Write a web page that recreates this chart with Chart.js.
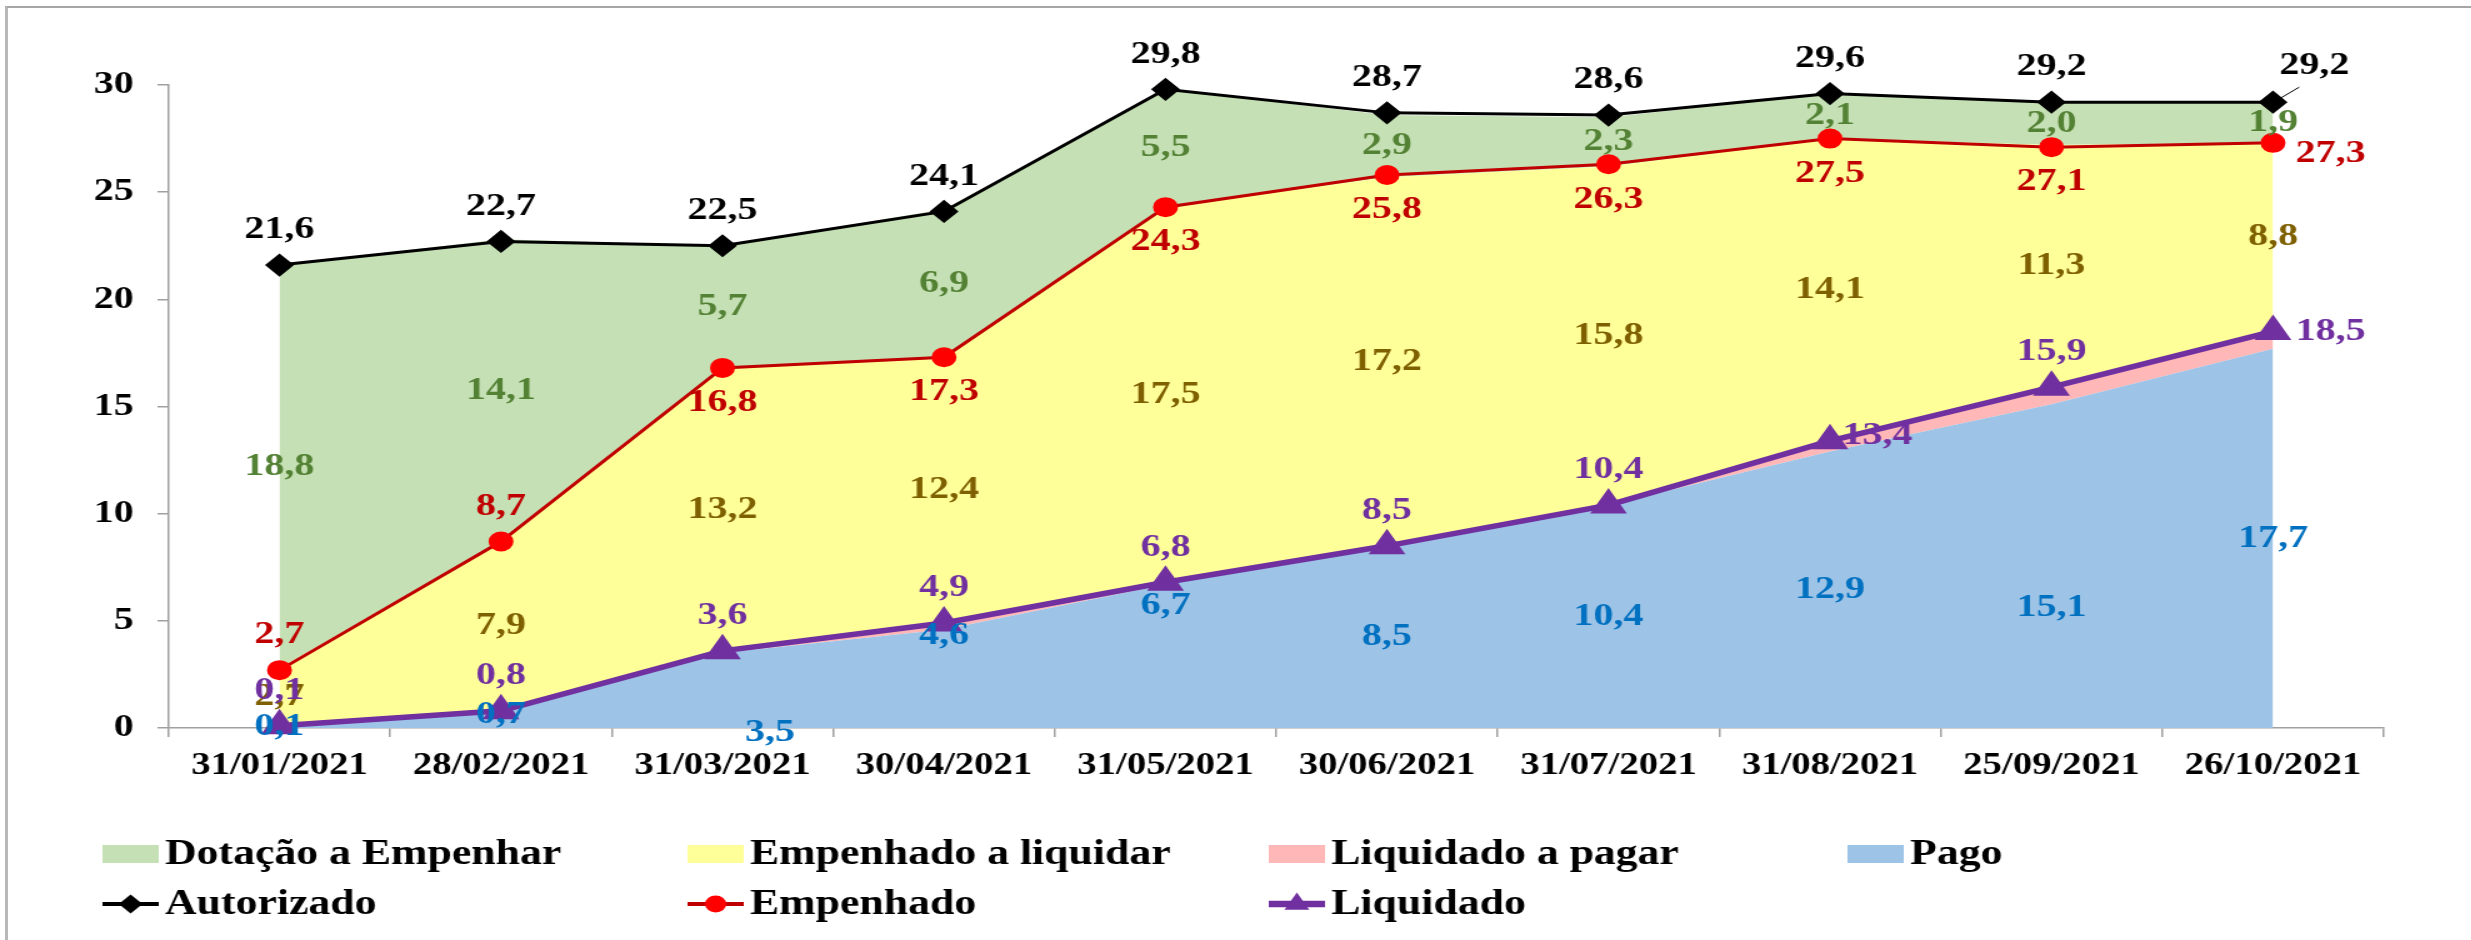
<!DOCTYPE html>
<html>
<head>
<meta charset="utf-8">
<script src="https://cdn.jsdelivr.net/npm/chart.js@4.4.1/dist/chart.umd.min.js"></script>
<style>
  html, body { margin: 0; padding: 0; background: #fff; overflow: hidden; }
  #moldura { position: absolute; left: 5px; top: 6px; width: 2480px; height: 940px;
             border-left: 3px solid #B8B8B8; border-top: 2px solid #A6A6A6; }
  /* o gráfico original está esticado na horizontal */
  #caixa { position: absolute; left: 0; top: 0; width: 1977px; height: 940px;
           transform: scaleX(1.25); transform-origin: 0 0; }
</style>
</head>
<body>
<div id="moldura"></div>
<div id="caixa"><canvas id="grafico"></canvas></div>
<script>
// Dados (bilhões)
const categorias = ['31/01/2021', '28/02/2021', '31/03/2021', '30/04/2021', '31/05/2021',
                    '30/06/2021', '31/07/2021', '31/08/2021', '25/09/2021', '26/10/2021'];
const pago               = [0.1, 0.7, 3.5, 4.6, 6.7, 8.5, 10.4, 12.9, 15.1, 17.7];
const liquidadoAPagar    = [0.0, 0.1, 0.1, 0.3, 0.1, 0.0, 0.0, 0.5, 0.8, 0.8];
const empenhadoALiquidar = [2.7, 7.9, 13.2, 12.4, 17.5, 17.2, 15.8, 14.1, 11.3, 8.8];
const dotacaoAEmpenhar   = [18.8, 14.1, 5.7, 6.9, 5.5, 2.9, 2.3, 2.1, 2.0, 1.9];
const autorizado         = [21.6, 22.7, 22.5, 24.1, 29.8, 28.7, 28.6, 29.6, 29.2, 29.2];
const empenhado          = [2.7, 8.7, 16.8, 17.3, 24.3, 25.8, 26.3, 27.5, 27.1, 27.3];
const liquidado          = [0.1, 0.8, 3.6, 4.9, 6.8, 8.5, 10.4, 13.4, 15.9, 18.5];
const yTicks = [0, 5, 10, 15, 20, 25, 30];

// Posição dos rótulos
const posAutorizado = ['t', 't', 't', 't', 't', 't', 't', 't', 't', 'tr'];
const posEmpenhado  = ['t', 't', 'b', 'b', 'b', 'b', 'b', 'b', 'b', 'rb'];
const posLiquidado  = ['t', 't', 't', 't', 't', 't', 't', 'rt', 't', 'r'];
const desloc = { t: [0, -35], b: [0, 35], r: [46, 0], rb: [46, 11], rt: [38, -5], tr: [33, -36] };
// alguns rótulos de "Pago" foram movidos à mão no original
const pagoRotuloEm = [null, 0.6, -0.2, 4.3, 5.7, null, null, null, 5.6, null];
const pagoRotuloDx = [0, 0, 38, 0, 0, 0, 0, 0, 0, 0];

const FONTE = "'Liberation Serif', 'Times New Roman', serif";
const fmt = v => v.toFixed(1).replace('.', ',');

const rotulos = {
    id: 'rotulos',
    afterDatasetsDraw(chart) {
        const ctx = chart.ctx;
        const sx = chart.scales.x, sy = chart.scales.y;
        ctx.save();
        ctx.font = 'bold 32px ' + FONTE;
        ctx.textAlign = 'center';
        ctx.textBaseline = 'middle';

        // rótulos das áreas, no meio de cada faixa
        const areas = [[pago, '#0070C0'], [liquidadoAPagar, null],
                       [empenhadoALiquidar, '#7F6000'], [dotacaoAEmpenhar, '#548235']];
        categorias.forEach((c, i) => {
            let base = 0;
            areas.forEach(([serie, cor], k) => {
                const topo = base + serie[i];
                if (cor) {
                    let v = (base + topo) / 2, dx = 0;
                    if (k === 0 && pagoRotuloEm[i] !== null) { v = pagoRotuloEm[i]; dx = pagoRotuloDx[i]; }
                    ctx.fillStyle = cor;
                    ctx.fillText(fmt(serie[i]), sx.getPixelForValue(i) + dx, sy.getPixelForValue(v));
                }
                base = topo;
            });
        });

        // rótulos das linhas
        const linhas = [[liquidado, posLiquidado, '#7030A0'],
                        [empenhado, posEmpenhado, '#C00000'],
                        [autorizado, posAutorizado, '#000000']];
        linhas.forEach(([serie, pos, cor]) => {
            serie.forEach((v, i) => {
                const px = sx.getPixelForValue(i), py = sy.getPixelForValue(v);
                const [dx, dy] = desloc[pos[i]];
                ctx.fillStyle = cor;
                ctx.fillText(fmt(v), px + dx, py + dy);
                if (pos[i] === 'tr') {
                    ctx.strokeStyle = cor;
                    ctx.lineWidth = 1;
                    ctx.beginPath();
                    ctx.moveTo(px + 6, py - 4);
                    ctx.lineTo(px + 21, py - 15);
                    ctx.stroke();
                }
            });
        });
        ctx.restore();
    }
};

function marcador(ctx, estilo, x, y, r, cor) {
    ctx.fillStyle = cor;
    ctx.beginPath();
    if (estilo === 'rectRot') {
        ctx.moveTo(x, y - r); ctx.lineTo(x + r, y); ctx.lineTo(x, y + r); ctx.lineTo(x - r, y);
    } else if (estilo === 'triangle') {
        ctx.moveTo(x, y - r);
        ctx.lineTo(x + r * 0.866, y + r * 0.5);
        ctx.lineTo(x - r * 0.866, y + r * 0.5);
    } else {
        ctx.arc(x, y, r, 0, Math.PI * 2);
    }
    ctx.closePath();
    ctx.fill();
}

// Legenda em grade, como no original
const legendaGrade = {
    id: 'legendaGrade',
    afterDraw(chart) {
        const ctx = chart.ctx;
        const ds = chart.data.datasets;
        const colunas = [82, 550, 1015, 1478];
        const grade = [[3, 2, 1, 0], [4, 5, 6]];
        const linhasY = [854, 904];
        ctx.save();
        ctx.font = 'bold 35px ' + FONTE;
        ctx.textAlign = 'left';
        ctx.textBaseline = 'middle';
        grade.forEach((linha, l) => {
            const y = linhasY[l];
            linha.forEach((idx, c) => {
                const d = ds[idx];
                const x = colunas[c];
                if (l === 0) {
                    ctx.fillStyle = d.backgroundColor;
                    ctx.fillRect(x, y - 9, 45, 18);
                } else {
                    ctx.strokeStyle = d.borderColor;
                    ctx.lineWidth = d.borderWidth + 1;
                    ctx.beginPath();
                    ctx.moveTo(x, y);
                    ctx.lineTo(x + 45, y);
                    ctx.stroke();
                    marcador(ctx, d.pointStyle, x + 22.5, y, d.pointRadius, d.pointBackgroundColor);
                }
                ctx.fillStyle = '#000';
                ctx.fillText(d.label, x + 50, y + 1);
            });
        });
        ctx.restore();
    }
};

function area(label, data, cor, fill) {
    return { label: label, data: data, backgroundColor: cor, borderWidth: 0, pointRadius: 0,
             fill: fill, stack: 'area', order: 2 };
}

document.addEventListener('DOMContentLoaded', function() {
    const ctx = document.getElementById('grafico').getContext('2d');
    new Chart(ctx, {
        type: 'line',
        data: {
            labels: categorias,
            datasets: [
                area('Pago', pago, '#9DC3E6', 'origin'),
                area('Liquidado a pagar', liquidadoAPagar, '#FFB7B7', '-1'),
                area('Empenhado a liquidar', empenhadoALiquidar, '#FFFF99', '-1'),
                area('Dotação a Empenhar', dotacaoAEmpenhar, '#C5E0B4', '-1'),
                {
                    label: 'Autorizado', data: autorizado, stack: 'aut', order: 0,
                    borderColor: '#000000', borderWidth: 3, fill: false, clip: false,
                    pointStyle: 'rectRot', pointRadius: 9.5,
                    pointBackgroundColor: '#000000', pointBorderColor: '#000000'
                },
                {
                    label: 'Empenhado', data: empenhado, stack: 'emp', order: 0,
                    borderColor: '#C00000', borderWidth: 3, fill: false, clip: false,
                    pointStyle: 'circle', pointRadius: 8.5,
                    pointBackgroundColor: '#FF0000', pointBorderColor: '#FF0000'
                },
                {
                    label: 'Liquidado', data: liquidado, stack: 'liq', order: 0,
                    borderColor: '#7030A0', borderWidth: 5.5, fill: false, clip: false,
                    pointStyle: 'triangle', pointRadius: 11.5,
                    pointBackgroundColor: '#7030A0', pointBorderColor: '#7030A0'
                }
            ]
        },
        options: {
            responsive: true,
            maintainAspectRatio: false,
            animation: false,
            events: [],
            layout: { padding: { left: 0, right: 70, top: 85, bottom: 0 } },
            elements: { line: { tension: 0 } },
            plugins: { legend: { display: false }, tooltip: { enabled: false } },
            scales: {
                x: {
                    offset: true,
                    afterFit: s => { s.height = 212; },
                    grid: { drawOnChartArea: false, drawTicks: true, tickLength: 9,
                            color: '#A0A0A0', lineWidth: 1.5, offset: true },
                    border: { color: '#A0A0A0', width: 1.5 },
                    ticks: { color: '#000', padding: 10, maxRotation: 0, autoSkip: false,
                             font: { family: FONTE, size: 31, weight: 'bold' } }
                },
                y: {
                    stacked: true,
                    min: 0,
                    max: 30,
                    afterFit: s => { s.width = 135; },
                    afterBuildTicks: s => { s.ticks = yTicks.map(v => ({ value: v })); },
                    grid: { drawOnChartArea: false, drawTicks: true, tickLength: 9,
                            color: '#A0A0A0', lineWidth: 1.5 },
                    border: { color: '#A0A0A0', width: 1.5 },
                    ticks: { color: '#000', padding: 19,
                             font: { family: FONTE, size: 32, weight: 'bold' } }
                }
            }
        },
        plugins: [rotulos, legendaGrade]
    });
});
</script>
</body>
</html>
